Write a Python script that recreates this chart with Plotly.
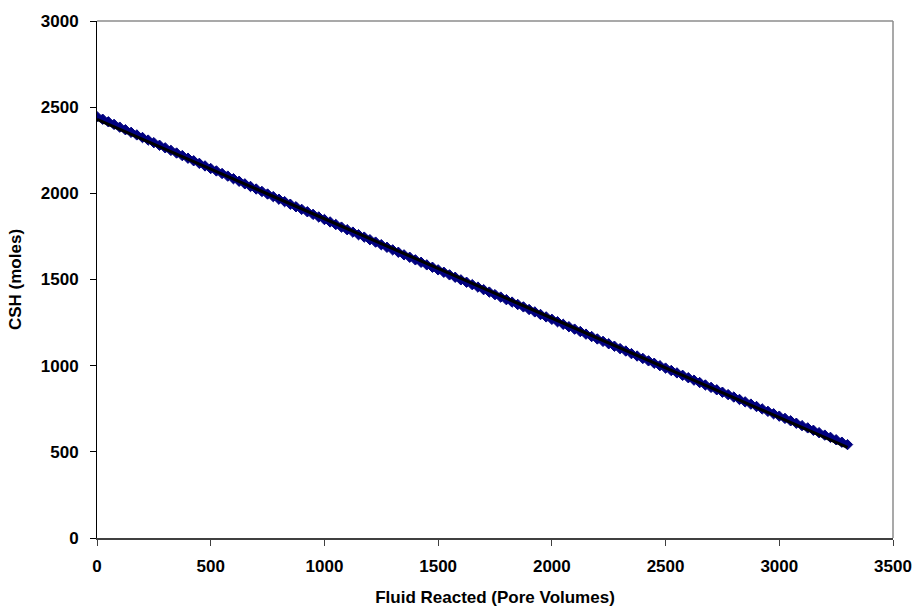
import plotly.graph_objects as go

# Fluid reacted (pore volumes)
fluid_reacted = [
    0, 25, 50, 75, 100, 125, 150, 175, 200, 225, 250, 275, 300, 325, 350, 375,
    400, 425, 450, 475, 500, 525, 550, 575, 600, 625, 650, 675, 700, 725, 750, 775,
    800, 825, 850, 875, 900, 925, 950, 975, 1000, 1025, 1050, 1075, 1100, 1125, 1150, 1175,
    1200, 1225, 1250, 1275, 1300, 1325, 1350, 1375, 1400, 1425, 1450, 1475, 1500, 1525, 1550, 1575,
    1600, 1625, 1650, 1675, 1700, 1725, 1750, 1775, 1800, 1825, 1850, 1875, 1900, 1925, 1950, 1975,
    2000, 2025, 2050, 2075, 2100, 2125, 2150, 2175, 2200, 2225, 2250, 2275, 2300, 2325, 2350, 2375,
    2400, 2425, 2450, 2475, 2500, 2525, 2550, 2575, 2600, 2625, 2650, 2675, 2700, 2725, 2750, 2775,
    2800, 2825, 2850, 2875, 2900, 2925, 2950, 2975, 3000, 3025, 3050, 3075, 3100, 3125, 3150, 3175,
    3200, 3225, 3250, 3275, 3300]
# CSH (moles)
csh_moles = [
    2445, 2430, 2415, 2400, 2384, 2369, 2354, 2339, 2324, 2309, 2294, 2279, 2264, 2249, 2234, 2219,
    2204, 2189, 2174, 2159, 2144, 2130, 2115, 2100, 2085, 2070, 2055, 2040, 2025, 2011, 1996, 1981,
    1966, 1952, 1937, 1922, 1907, 1893, 1878, 1863, 1848, 1834, 1819, 1804, 1789, 1775, 1760, 1746,
    1731, 1717, 1702, 1687, 1672, 1658, 1643, 1629, 1614, 1600, 1585, 1571, 1556, 1542, 1527, 1513,
    1498, 1484, 1470, 1456, 1441, 1427, 1412, 1398, 1383, 1369, 1355, 1341, 1326, 1312, 1297, 1283,
    1269, 1255, 1240, 1226, 1212, 1198, 1183, 1169, 1155, 1141, 1127, 1113, 1099, 1085, 1070, 1056,
    1042, 1028, 1014, 1000, 986, 972, 958, 944, 930, 916, 902, 888, 874, 860, 846, 832,
    818, 804, 790, 777, 763, 749, 735, 721, 707, 694, 680, 666, 652, 639, 625, 611,
    597, 584, 570, 556, 542]

# Linear trend line endpoints
trend_x = [0, 3300]
trend_y = [2429, 526]

x_ticks = [0, 500, 1000, 1500, 2000, 2500, 3000, 3500]
y_ticks = [0, 500, 1000, 1500, 2000, 2500, 3000]

fig = go.Figure()
fig.add_trace(go.Scatter(
    x=fluid_reacted, y=csh_moles, mode="markers",
    marker=dict(symbol="diamond", size=8, color="#000080",
                line=dict(width=1, color="#000080")),
    showlegend=False,
))
fig.add_trace(go.Scatter(
    x=trend_x, y=trend_y, mode="lines",
    line=dict(color="black", width=3),
    showlegend=False,
))

font_family = "Liberation Sans, Arial, sans-serif"
fs = 17
fig.update_layout(
    width=924, height=616,
    margin=dict(l=97, r=24, t=15, b=76),
    paper_bgcolor="white", plot_bgcolor="white",
    font=dict(family=font_family, size=fs, color="black"),
    xaxis=dict(
        range=[0, 3500], tickvals=x_ticks, ticktext=["<b>%d</b>" % v for v in x_ticks],
        showgrid=False, zeroline=False, showline=True, linecolor="#404040", linewidth=1.5,
        ticks="outside", ticklen=6, tickcolor="#404040", tickwidth=1,
        ticklabelstandoff=6,
        tickfont=dict(family=font_family, size=fs, color="black"),
        title=dict(text="<b>Fluid Reacted (Pore Volumes)</b>", standoff=16,
                   font=dict(family=font_family, size=fs, color="black")),
    ),
    yaxis=dict(
        range=[0, 3000], tickvals=y_ticks, ticktext=["<b>%d</b>" % v for v in y_ticks],
        showgrid=False, zeroline=False, showline=True, linecolor="black", linewidth=1,
        ticks="outside", ticklen=6, tickcolor="black", tickwidth=1,
        ticklabelstandoff=8,
        tickfont=dict(family=font_family, size=fs, color="black"),
        title=dict(text="<b>CSH (moles)</b>", standoff=14,
                   font=dict(family=font_family, size=fs, color="black")),
    ),
    shapes=[
        dict(type="line", xref="paper", yref="paper", x0=0, x1=1, y0=1, y1=1,
             line=dict(color="#8c8c8c", width=1.5)),
        dict(type="line", xref="paper", yref="paper", x0=1, x1=1, y0=0, y1=1,
             line=dict(color="#8c8c8c", width=1.5)),
    ],
)

fig.write_html("out.html")
